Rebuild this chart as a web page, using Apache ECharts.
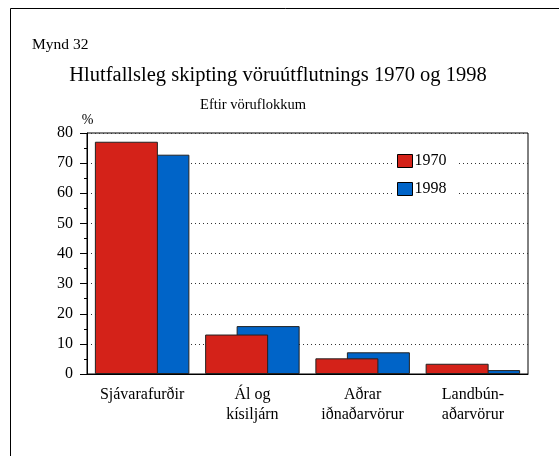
<!DOCTYPE html>
<html>
<head>
<meta charset="utf-8">
<script src="https://cdn.jsdelivr.net/npm/echarts@6/dist/echarts.min.js"></script>
<style>
html,body{margin:0;padding:0;background:#fff;}
#c{width:559px;height:456px;}
</style>
</head>
<body>
<div id="c"></div>
<script>
const categories = ['Sjávarafurðir', 'Ál og\nkísiljárn', 'Aðrar\niðnaðarvörur', 'Landbún-\naðarvörur'];
const values1970 = [77.1, 13.1, 5.2, 3.4];
const values1998 = [72.8, 15.9, 7.2, 1.3];
const seriesNames = ['1970', '1998'];

const FONT = '"Liberation Serif", "Times New Roman", serif';
const chart = echarts.init(document.getElementById('c'), null, {renderer: 'canvas'});
chart.setOption({
  animation: false,
  backgroundColor: '#fff',
  textStyle: {fontFamily: FONT, color: '#000'},
  grid: {left: 87, top: 133, right: 31, bottom: 82, show: true, borderColor: '#000', borderWidth: 1, backgroundColor: 'transparent'},
  legend: {
    data: seriesNames,
    orient: 'vertical',
    icon: 'rect',
    left: 392, top: 150,
    itemWidth: 15, itemHeight: 13, itemGap: 12,
    padding: [3, 10, 3, 5],
    backgroundColor: '#fff',
    textStyle: {fontFamily: FONT, fontSize: 16, color: '#000', padding: [0, 0, 0, -3]},
    itemStyle: {borderColor: '#000', borderWidth: 1}
  },
  xAxis: {
    type: 'category',
    data: categories,
    axisLine: {show: true, lineStyle: {color: '#000', width: 1}},
    axisTick: {show: false},
    axisLabel: {fontFamily: FONT, fontSize: 16, color: '#000', margin: 11, lineHeight: 20, interval: 0}
  },
  yAxis: {
    type: 'value',
    min: 0, max: 80, interval: 10,
    axisLine: {show: true, lineStyle: {color: '#000', width: 1}},
    axisTick: {show: true, length: 7, lineStyle: {color: '#000'}},
    minorTick: {show: true, splitNumber: 2, length: 3, lineStyle: {color: '#000'}},
    axisLabel: {fontFamily: FONT, fontSize: 16, color: '#000', margin: 14},
    splitLine: {show: true, lineStyle: {color: '#333', type: [1, 3], width: 1}}
  },
  series: [
    {
      name: seriesNames[0], type: 'bar', data: values1970,
      barWidth: 63, barGap: '-50%', z: 3,
      itemStyle: {color: '#d42219', borderColor: '#222', borderWidth: 1}
    },
    {
      name: seriesNames[1], type: 'bar', data: values1998,
      barWidth: 63, barGap: '-50%', z: 2,
      itemStyle: {color: '#0064c8', borderColor: '#222', borderWidth: 1}
    }
  ],
  graphic: [
    {type: 'rect', x: 10.5, y: 8.5, shape: {x: 0, y: 0, width: 700, height: 600}, style: {fill: 'none', stroke: '#000', lineWidth: 1}, silent: true, z: -10},
    {type: 'text', x: 32, y: 44.5, style: {text: 'Mynd 32', font: '15.5px ' + FONT, fill: '#000', textAlign: 'left', textVerticalAlign: 'middle'}},
    {type: 'text', x: 278, y: 76, style: {text: 'Hlutfallsleg skipting vöruútflutnings 1970 og 1998', font: '20.5px ' + FONT, fill: '#000', textAlign: 'center', textVerticalAlign: 'middle'}},
    {type: 'text', x: 253, y: 105, style: {text: 'Eftir vöruflokkum', font: '14.5px ' + FONT, fill: '#000', textAlign: 'center', textVerticalAlign: 'middle'}},
    {type: 'text', x: 87.5, y: 120, style: {text: '%', font: '14px ' + FONT, fill: '#000', textAlign: 'center', textVerticalAlign: 'middle'}}
  ]
});
</script>
</body>
</html>
